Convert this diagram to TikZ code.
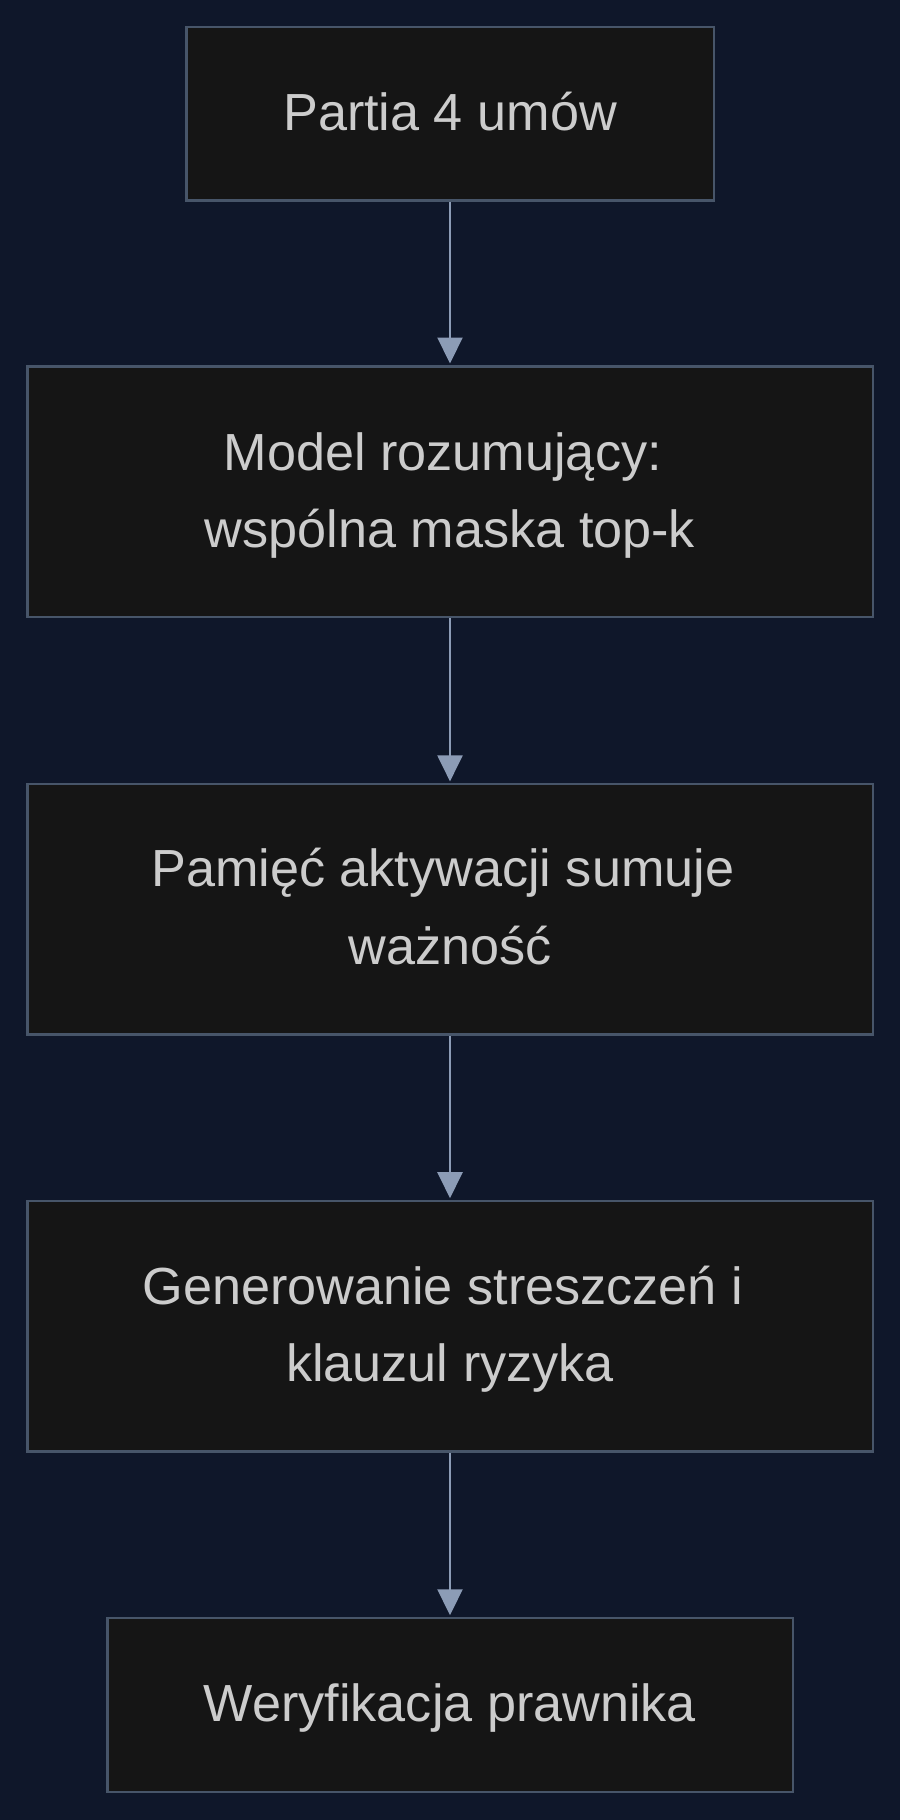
\documentclass[tikz,border=0pt]{standalone}
\usepackage{fontspec}
\setmainfont{Liberation Sans}
\usetikzlibrary{arrows.meta}
\definecolor{bg}{HTML}{0F172A}
\definecolor{boxfill}{HTML}{151515}
\definecolor{boxline}{HTML}{475569}
\definecolor{arrowc}{HTML}{8C9CB6}
\definecolor{txt}{HTML}{CCCCCC}
\begin{document}
\begin{tikzpicture}[x=1pt,y=-1pt,
  box/.style={draw=boxline, fill=boxfill, line width=2.5pt, inner sep=0pt, rectangle},
  lbl/.style={anchor=base, text=txt, font=\fontsize{52.2}{77.5}\selectfont, inner sep=0pt, outer sep=0pt},
  flow/.style={draw=arrowc, line width=2.2pt, shorten >=1.5pt, -{Triangle[length=26pt,width=25pt]}}]
\fill[bg] (0,0) rectangle (900,1820);
\useasboundingbox (0,0) rectangle (900,1820);

\node[box, minimum width=527.5pt, minimum height=173.5pt] (n1) at (450,113.7) {};
\node[box, minimum width=845.5pt, minimum height=250.5pt] (n2) at (450,491.5) {};
\node[box, minimum width=845.5pt, minimum height=250.5pt] (n3) at (450,909.4) {};
\node[box, minimum width=845.5pt, minimum height=250.5pt] (n4) at (450,1326.2) {};
\node[box, minimum width=685.5pt, minimum height=174pt] (n5) at (450,1705) {};

\node[lbl] (t1) at (450,130) {Partia 4 umów};
\node[lbl] (t2a) at (442.8,470) {Model rozumujący:};
\node[lbl] (t2b) at (450,547) {wspólna maska top-k};
\node[lbl] (t3a) at (442.8,886.7) {Pamięć aktywacji sumuje};
\node[lbl] (t3b) at (450,964.3) {ważność};
\node[lbl] (t4a) at (442.8,1304) {Generowanie streszczeń i};
\node[lbl] (t4b) at (450,1381.5) {klauzul ryzyka};
\node[lbl] (t5) at (450,1721.7) {Weryfikacja prawnika};

\draw[flow] (n1.south) -- (n2.north);
\draw[flow] (n2.south) -- (n3.north);
\draw[flow] (n3.south) -- (n4.north);
\draw[flow] (n4.south) -- (n5.north);
\end{tikzpicture}
\end{document}
